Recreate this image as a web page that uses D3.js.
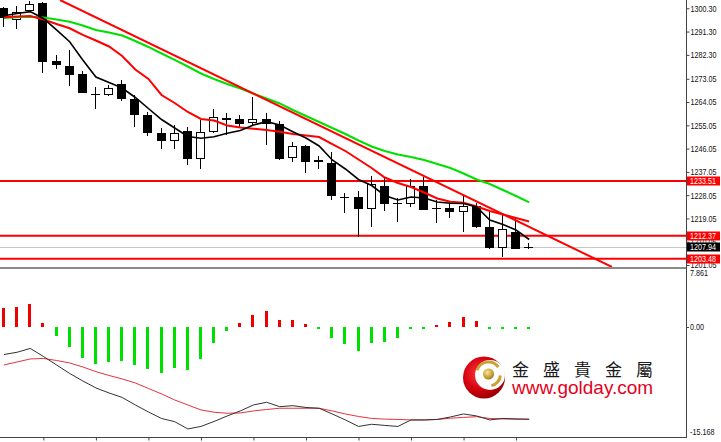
<!DOCTYPE html>
<html><head><meta charset="utf-8">
<script src="https://cdn.jsdelivr.net/npm/d3@7"></script>
<style>
html,body{margin:0;padding:0;background:#fff;}
svg{display:block;}
.ax text{font-family:"Liberation Sans",Arial,sans-serif;font-size:9px;fill:#111;}
</style>
</head><body>
<svg id="c" width="721" height="442"></svg>
<script>
// ---------- DATA ----------
const opens  = [1300.31,1295.79,1299.38,1302.24,1279.93,1278.11,1274.79,1267.25,1266.67,1271.04,
                1265.35,1258.93,1252.21,1248.88,1252.86,1241.92,1252.59,1257.12,1257.39,1255.84,
                1257.39,1255.57,1242.31,1247.06,1241.65,1240.60,1227.50,1227.46,1222.59,1231.71,
                1225.20,1224.52,1231.71,1223.00,1222.97,1221.42,1223.98,1215.85,1207.74,1213.92,1208.00];
const highs  = [1300.93,1301.20,1303.30,1302.86,1282.25,1284.19,1276.18,1269.76,1270.65,1272.58,
                1266.78,1260.33,1254.14,1255.18,1254.52,1257.12,1261.25,1259.82,1259.05,1266.13,
                1259.94,1256.84,1248.72,1247.45,1243.19,1244.86,1229.00,1229.66,1235.46,1235.19,
                1226.84,1234.19,1235.19,1226.18,1224.90,1228.11,1224.90,1221.66,1220.38,1219.10,1209.67];
const lows   = [1293.20,1292.31,1299.00,1275.41,1276.84,1270.26,1267.44,1261.25,1266.51,1264.58,
                1254.52,1250.93,1245.90,1245.79,1239.71,1238.17,1252.09,1251.32,1254.52,1255.18,
                1247.45,1241.65,1240.99,1236.74,1238.05,1226.18,1221.04,1211.76,1215.62,1222.04,
                1217.79,1223.36,1222.20,1217.40,1219.10,1213.92,1215.50,1207.23,1204.26,1207.12,1207.12];
const closes = [1296.44,1299.00,1301.97,1279.66,1278.27,1274.40,1267.56,1267.10,1269.49,1265.24,
                1258.93,1252.21,1248.88,1252.21,1241.92,1252.36,1258.28,1257.89,1255.45,1257.39,
                1255.45,1241.92,1247.06,1240.99,1240.76,1227.73,1227.40,1222.70,1232.37,1224.63,
                1225.10,1231.59,1222.31,1222.90,1221.66,1223.86,1215.62,1207.50,1214.85,1207.23,1207.94];

const maBlack = [1297.45,1298.30,1299.00,1296.37,1291.92,1287.39,1280.32,1273.74,1271.62,1269.49,
                 1265.82,1261.56,1257.31,1254.02,1250.74,1250.04,1250.66,1251.97,1253.05,1255.18,
                 1256.46,1255.18,1252.59,1250.16,1247.06,1241.65,1238.17,1234.11,1231.79,1227.92,
                 1226.18,1227.34,1226.95,1225.41,1224.90,1224.83,1223.47,1218.45,1216.71,1214.58,1210.91];
const maRed   = [1296.83,1297.14,1297.33,1295.98,1294.24,1292.58,1289.99,1287.86,1285.54,1281.87,
                 1276.64,1272.97,1266.78,1263.69,1260.21,1257.50,1256.92,1254.99,1254.22,1253.71,
                 1253.25,1252.59,1251.70,1251.12,1250.54,1247.83,1245.13,1241.84,1238.56,1234.88,
                 1232.75,1231.21,1229.08,1226.76,1225.52,1225.10,1223.67,1221.93,1220.57,1219.22,1217.87];
const maGreen = [1296.56,1296.83,1297.06,1296.75,1295.98,1295.13,1293.66,1291.92,1290.95,1289.79,
                 1287.67,1285.35,1282.83,1280.32,1277.80,1275.10,1272.97,1271.04,1269.30,1267.36,
                 1265.43,1263.50,1260.98,1258.66,1256.34,1254.02,1251.70,1249.19,1246.87,1245.13,
                 1243.77,1242.81,1241.65,1240.10,1238.56,1236.43,1234.11,1232.37,1230.05,1227.73,1225.29];

const levelPrices = [1233.51, 1212.37, 1203.48];
const bidPrice = 1207.94;
const trendBars = [4.27, 46.3];
const trendPrices = [1303.5, 1200.3];
const priceTicks = [1300.30,1291.30,1282.30,1273.05,1264.05,1255.05,1246.05,1237.05,1228.05,1219.05,1210.05,1201.05];

const macdHist = [2.55,2.78,3.15,0.47,-1.29,-2.77,-4.39,-5.13,-4.90,-4.76,
                  -5.31,-5.91,-6.47,-5.69,-6.05,-4.48,-2.31,-0.60,0.47,1.62,
                  2.22,0.93,0.93,0.33,-0.20,-1.53,-2.40,-3.37,-2.22,-2.08,
                  -1.53,-0.20,-0.20,0.20,0.69,1.30,0.83,-0.37,-0.10,-0.35,-0.35];
const macdDif  = [-3.86,-3.55,-3.02,-4.13,-5.31,-6.49,-7.53,-8.50,-9.20,-9.82,
                  -10.86,-11.83,-12.74,-13.18,-14.19,-13.84,-13.15,-12.39,-11.69,-10.86,
                  -10.49,-11.10,-10.96,-11.21,-11.32,-12.11,-12.94,-13.84,-13.54,-13.70,
                  -13.84,-12.94,-12.94,-12.87,-12.53,-12.11,-12.39,-12.94,-12.73,-12.80,-12.84];
const macdDea  = [-5.31,-4.90,-4.48,-4.41,-4.69,-5.03,-5.59,-6.24,-6.77,-7.25,
                  -7.81,-8.57,-9.33,-10.17,-10.86,-11.55,-11.87,-12.01,-11.97,-11.69,
                  -11.49,-11.32,-11.32,-11.32,-11.32,-11.69,-12.11,-12.46,-12.73,-12.83,
                  -12.87,-12.94,-12.94,-12.87,-12.70,-12.59,-12.49,-12.73,-12.80,-12.83,-12.84];
const macdMax = 7.861, macdMin = -15.168;
const macdTickLabels = ["7.861","0.00","-15.168"];
const timeTickBars = [3,7,11,15,19,23,27,31,35,39];

// ---------- LAYOUT ----------
const svg = d3.select('#c');
const axisX = 686, mainBottom = 267, subTop = 270, subBottom = 436, bottomAxisY = 437;
const n = opens.length;
const x = d3.scaleLinear().domain([0, n-1]).range([4, 529.2]);
const y = d3.scaleLinear().domain([1201.05, 1300.30]).range([265, 8.3]);
const ym = d3.scaleLinear().domain([macdMin, macdMax]).range([subBottom, subTop]);

const defs = svg.append('defs');
defs.append('clipPath').attr('id','clipMain').append('rect').attr('x',0).attr('y',0).attr('width',axisX).attr('height',mainBottom);
defs.append('clipPath').attr('id','clipSub').append('rect').attr('x',0).attr('y',subTop).attr('width',axisX).attr('height',subBottom-subTop);

const RED = '#ff0000', GREEN = '#00e000';

// ---------- MAIN PANEL ----------
const gm = svg.append('g').attr('clip-path','url(#clipMain)');

gm.append('line').attr('x1',0).attr('x2',axisX)
  .attr('y1',Math.round(y(bidPrice))+0.5).attr('y2',Math.round(y(bidPrice))+0.5)
  .attr('stroke','#c8c8c8').attr('stroke-width',1);

gm.selectAll('line.lvl').data(levelPrices).join('line').attr('class','lvl')
  .attr('x1',0).attr('x2',axisX).attr('y1',d=>y(d)).attr('y2',d=>y(d))
  .attr('stroke',RED).attr('stroke-width',2);

const bars = d3.range(n).map(i=>({i,o:opens[i],h:highs[i],l:lows[i],c:closes[i]}));
const cx = i => Math.round(x(i));

gm.selectAll('line.wick').data(bars).join('line').attr('class','wick')
  .attr('x1',d=>cx(d.i)-0.5).attr('x2',d=>cx(d.i)-0.5)
  .attr('y1',d=>Math.round(y(d.h))).attr('y2',d=>Math.round(y(d.l)))
  .attr('stroke','#000').attr('stroke-width',1);

bars.forEach(d=>{
  const top = Math.round(y(Math.max(d.o,d.c)));
  const bot = Math.round(y(Math.min(d.o,d.c)));
  const h = bot - top;
  if (d.c > d.o && h >= 2) {
    gm.append('rect').attr('x',cx(d.i)-4.5).attr('y',top+0.5).attr('width',8).attr('height',h-1)
      .attr('fill','#fff').attr('stroke','#000').attr('stroke-width',1);
  } else {
    gm.append('rect').attr('x',cx(d.i)-5).attr('y',top).attr('width',9).attr('height',Math.max(1,h))
      .attr('fill','#000').attr('shape-rendering','crispEdges');
  }
});

const maLine = d3.line().x((v,i)=>x(i)).y(v=>y(v));
gm.append('path').attr('d',maLine(maGreen)).attr('fill','none').attr('stroke',GREEN).attr('stroke-width',2);
gm.append('path').attr('d',maLine(maRed)).attr('fill','none').attr('stroke',RED).attr('stroke-width',2);
gm.append('path').attr('d',maLine(maBlack)).attr('fill','none').attr('stroke','#000').attr('stroke-width',1.6);

gm.append('line')
  .attr('x1',x(trendBars[0])).attr('y1',y(trendPrices[0]))
  .attr('x2',x(trendBars[1])).attr('y2',y(trendPrices[1]))
  .attr('stroke',RED).attr('stroke-width',2);

svg.append('rect').attr('x',0).attr('y',mainBottom).attr('width',axisX).attr('height',2)
  .attr('fill','#8a8a8a').attr('shape-rendering','crispEdges');

// ---------- MACD PANEL ----------
const gs = svg.append('g').attr('clip-path','url(#clipSub)');
const z = Math.round(ym(0));
gs.selectAll('rect.h').data(macdHist).join('rect').attr('class','h')
  .attr('x',(v,i)=>cx(i)-2).attr('width',3)
  .attr('y',v=> v>=0 ? Math.min(z-2, Math.round(ym(v))) : z)
  .attr('height',v=> Math.max(2, Math.abs(Math.round(ym(v)) - z)))
  .attr('fill',v=> v>=0 ? '#ee0000' : GREEN).attr('shape-rendering','crispEdges');

const mLine = d3.line().x((v,i)=>x(i)).y(v=>ym(v));
gs.append('path').attr('d',mLine(macdDea)).attr('fill','none').attr('stroke','#e8323c').attr('stroke-width',1);
gs.append('path').attr('d',mLine(macdDif)).attr('fill','none').attr('stroke','#333').attr('stroke-width',1);

// ---------- AXES ----------
svg.append('line').attr('x1',axisX+0.5).attr('x2',axisX+0.5).attr('y1',0).attr('y2',bottomAxisY+1)
  .attr('stroke','#444').attr('stroke-width',1);
svg.append('line').attr('x1',0).attr('x2',axisX+1).attr('y1',bottomAxisY+0.5).attr('y2',bottomAxisY+0.5)
  .attr('stroke','#444').attr('stroke-width',1);

const pAxis = svg.append('g').attr('class','ax').attr('transform',`translate(${axisX+0.5},0)`)
  .call(d3.axisRight(y).tickValues(priceTicks).tickFormat(d3.format('.2f')).tickSize(3).tickPadding(1));
pAxis.select('.domain').remove();
pAxis.selectAll('line').attr('stroke','#444');

const mAxisVals = [macdMax, 0, macdMin];
const mAxis = svg.append('g').attr('class','ax');
mAxis.selectAll('text').data(mAxisVals).join('text')
  .attr('x',axisX+4)
  .attr('y',(v,i)=> i===0 ? ym(v)+3.5 : (i===2 ? ym(v)-4 : ym(v)))
  .attr('dy','0.32em')
  .text((v,i)=>macdTickLabels[i]);
mAxis.append('line').attr('x1',axisX).attr('x2',axisX+3).attr('y1',Math.round(ym(0))+0.5).attr('y2',Math.round(ym(0))+0.5).attr('stroke','#444');

const tAxis = svg.append('g').attr('transform',`translate(0,${bottomAxisY+0.5})`)
  .call(d3.axisBottom(x).tickValues(timeTickBars).tickSize(3).tickFormat(''));
tAxis.select('.domain').remove();
tAxis.selectAll('line').attr('stroke','#444');

const boxes = svg.append('g').attr('class','ax');
levelPrices.forEach(p=>{
  boxes.append('rect').attr('x',axisX+1).attr('y',Math.round(y(p))-4.5).attr('width',33).attr('height',9).attr('fill',RED);
  boxes.append('text').attr('x',axisX+4).attr('y',y(p)).attr('dy','0.34em').style('fill','#fff').text(d3.format('.2f')(p));
});
boxes.append('rect').attr('x',axisX+1).attr('y',Math.round(y(bidPrice))-4.5).attr('width',33).attr('height',9).attr('fill','#000');
boxes.append('text').attr('x',axisX+4).attr('y',y(bidPrice)).attr('dy','0.34em').style('fill','#fff').text(d3.format('.2f')(bidPrice));

// condense axis text (narrow terminal font look)
svg.selectAll('.ax text').each(function(){
  const w = this.getComputedTextLength();
  this.setAttribute('textLength', (w*0.8).toFixed(1));
  this.setAttribute('lengthAdjust','spacingAndGlyphs');
});

// ---------- LOGO ----------
const rg = defs.append('radialGradient').attr('id','redG').attr('cx','40%').attr('cy','40%').attr('r','65%');
rg.append('stop').attr('offset','0%').attr('stop-color','#ff3a3a');
rg.append('stop').attr('offset','60%').attr('stop-color','#d40010');
rg.append('stop').attr('offset','100%').attr('stop-color','#900000');
const gg = defs.append('radialGradient').attr('id','goldG').attr('cx','40%').attr('cy','35%').attr('r','70%');
gg.append('stop').attr('offset','0%').attr('stop-color','#f6e6a0');
gg.append('stop').attr('offset','55%').attr('stop-color','#d2aa3c');
gg.append('stop').attr('offset','100%').attr('stop-color','#9a7420');

const logo = svg.append('g');
logo.append('circle').attr('cx',484).attr('cy',377.5).attr('r',21).attr('fill','url(#redG)');
logo.append('circle').attr('cx',490).attr('cy',375).attr('r',15).attr('fill','#fff');
const ring = d3.arc().innerRadius(10.5).outerRadius(13.5);
logo.append('path').attr('transform','translate(488.5,374)')
  .attr('d',ring({startAngle:-1.25,endAngle:0.95})).attr('fill','#c9a235');
logo.append('path').attr('transform','translate(488.5,374)')
  .attr('d',ring({startAngle:1.7,endAngle:2.9})).attr('fill','#c9a235');
logo.append('circle').attr('cx',488.5).attr('cy',374).attr('r',5.5).attr('fill','url(#goldG)');

svg.append('text').attr('x',512).attr('y',376)
  .style('font-family','"Noto Sans CJK TC","Noto Sans CJK SC",sans-serif').style('font-size','17px')
  .style('letter-spacing','14px').style('fill','#1a1a1a').text('金盛貴金屬');
svg.append('text').attr('x',512).attr('y',394)
  .style('font-family','"Liberation Sans",Arial,sans-serif').style('font-size','19px')
  .style('fill','#e60020').text('www.golday.com');
</script>
</body></html>
